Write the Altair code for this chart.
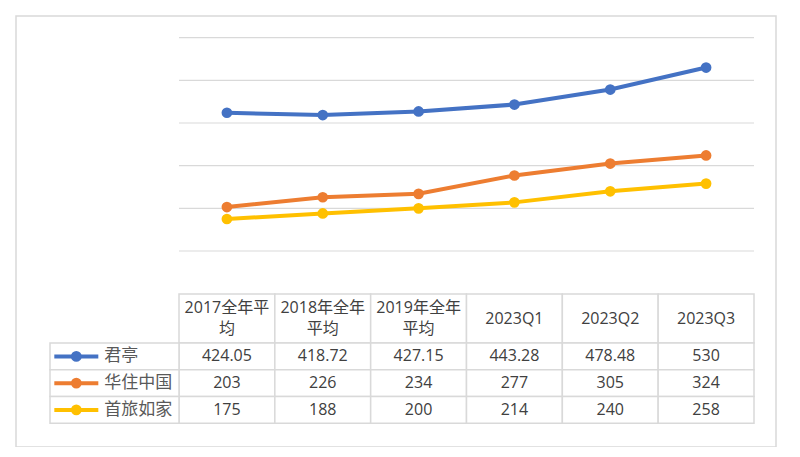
import altair as alt
import pandas as pd

categories = ["2017全年平均", "2018年全年平均", "2019年全年平均", "2023Q1", "2023Q2", "2023Q3"]
header_lines = ["2017全年平\n均", "2018年全年\n平均", "2019年全年\n平均", "2023Q1", "2023Q2", "2023Q3"]
series_names = ["君亭", "华住中国", "首旅如家"]
values_junting = [424.05, 418.72, 427.15, 443.28, 478.48, 530]
values_huazhu = [203, 226, 234, 277, 305, 324]
values_shoulv = [175, 188, 200, 214, 240, 258]
series_colors = ["#4472C4", "#ED7D31", "#FFC000"]
grid_values = [100, 200, 300, 400, 500, 600]

rows = []
for s, vals in zip(series_names, [values_junting, values_huazhu, values_shoulv]):
    for c, v in zip(categories, vals):
        rows.append({"cat": c, "series": s, "value": v, "label": f"{v:g}"})
df = pd.DataFrame(rows)
df_header = pd.DataFrame({
    "cat": categories,
    "header": header_lines,
    "nlines": [h.count("\n") + 1 for h in header_lines],
    "row": ["header"] * len(categories),
})
df_series = pd.DataFrame({"series": series_names, "col": ["legend"] * len(series_names)})
df_grid = pd.DataFrame({"g": grid_values})

FONT = "Open Sans, Noto Sans CJK SC"
TXT = "#404040"
BORDER = "#d9d9d9"

x_cat = alt.Scale(type="band", domain=categories, range=[163, 738], paddingInner=0, paddingOuter=0)
x_leg = alt.Scale(type="band", domain=["legend"], range=[34, 163], paddingInner=0, paddingOuter=0)
x_grid = alt.Scale(domain=[0, 1], range=[163, 738])
y_line = alt.Scale(domain=[100, 600], range=[235, 21.7], nice=False, zero=False)
y_head = alt.Scale(type="band", domain=["header"], range=[278, 327], paddingInner=0, paddingOuter=0)
y_body = alt.Scale(type="band", domain=series_names, range=[327, 407.3], paddingInner=0, paddingOuter=0)
c_scale = alt.Scale(domain=series_names, range=series_colors)

grid = alt.Chart(df_grid).mark_rule(color=BORDER, strokeWidth=1.2).encode(
    x=alt.XDatum(0, scale=x_grid, axis=None),
    x2=alt.X2Datum(1),
    y=alt.Y("g:Q", scale=y_line, axis=None),
)

lines = alt.Chart(df).mark_line(strokeWidth=4).encode(
    x=alt.X("cat:N", scale=x_cat, axis=None),
    y=alt.Y("value:Q", scale=y_line, axis=None),
    color=alt.Color("series:N", scale=c_scale, legend=None),
)
points = alt.Chart(df).mark_circle(size=115, opacity=1).encode(
    x=alt.X("cat:N", scale=x_cat, axis=None),
    y=alt.Y("value:Q", scale=y_line, axis=None),
    color=alt.Color("series:N", scale=c_scale, legend=None),
)

head_rect = alt.Chart(df_header).mark_rect(fill="white", stroke=BORDER, strokeWidth=1.5).encode(
    x=alt.X("cat:N", scale=x_cat, axis=None),
    y=alt.Y("row:N", scale=y_head, axis=None),
)
head_text_1 = alt.Chart(df_header).transform_filter("datum.nlines == 1").mark_text(
    font=FONT, fontSize=16, color=TXT, baseline="middle"
).encode(
    x=alt.X("cat:N", scale=x_cat, axis=None),
    y=alt.Y("row:N", scale=y_head, axis=None),
    text="header:N",
)
head_text_2 = alt.Chart(df_header).transform_filter("datum.nlines == 2").mark_text(
    font=FONT, fontSize=16, color=TXT, lineBreak="\n", lineHeight=21, baseline="middle", dy=-10.5
).encode(
    x=alt.X("cat:N", scale=x_cat, axis=None),
    y=alt.Y("row:N", scale=y_head, axis=None),
    text="header:N",
)

body_rect = alt.Chart(df).mark_rect(fill="white", stroke=BORDER, strokeWidth=1.5).encode(
    x=alt.X("cat:N", scale=x_cat, axis=None),
    y=alt.Y("series:N", scale=y_body, axis=None),
)
body_text = alt.Chart(df).mark_text(font=FONT, fontSize=16, color=TXT, baseline="middle").encode(
    x=alt.X("cat:N", scale=x_cat, axis=None),
    y=alt.Y("series:N", scale=y_body, axis=None),
    text="label:N",
)

leg_rect = alt.Chart(df_series).mark_rect(fill="white", stroke=BORDER, strokeWidth=1.5).encode(
    x=alt.X("col:N", scale=x_leg, axis=None),
    y=alt.Y("series:N", scale=y_body, axis=None),
)
leg_line = alt.Chart(df_series).mark_point(
    shape="M-1,0L1,0", size=1936, strokeWidth=4, filled=False, opacity=1
).encode(
    x=alt.X("col:N", scale=x_leg, axis=None, bandPosition=0.204),
    y=alt.Y("series:N", scale=y_body, axis=None),
    color=alt.Color("series:N", scale=c_scale, legend=None),
)
leg_dot = alt.Chart(df_series).mark_circle(size=115, opacity=1).encode(
    x=alt.X("col:N", scale=x_leg, axis=None, bandPosition=0.204),
    y=alt.Y("series:N", scale=y_body, axis=None),
    color=alt.Color("series:N", scale=c_scale, legend=None),
)
leg_text = alt.Chart(df_series).mark_text(
    font="Noto Sans CJK SC", fontSize=17, color="#595959", align="left", baseline="middle"
).encode(
    x=alt.X("col:N", scale=x_leg, axis=None, bandPosition=0.42),
    y=alt.Y("series:N", scale=y_body, axis=None),
    text="series:N",
)

chart = alt.layer(
    grid, lines, points, head_rect, head_text_1, head_text_2, body_rect, body_text,
    leg_rect, leg_line, leg_dot, leg_text,
).resolve_scale(x="independent", y="independent").properties(
    width=760, height=431,
    padding={"left": 8, "top": 8, "right": 8, "bottom": 0},
    autosize=alt.AutoSizeParams(type="none"),
    background="white",
).configure_view(stroke=BORDER, strokeWidth=1.5)

chart.save("out.html", embed_options={"renderer": "svg", "actions": False})
